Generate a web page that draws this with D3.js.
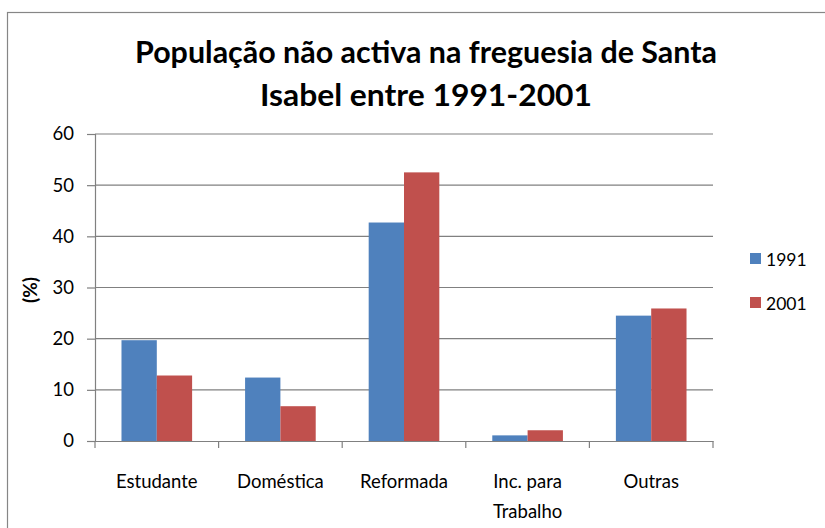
<!DOCTYPE html>
<html>
<head>
<meta charset="utf-8">
<script src="https://cdn.jsdelivr.net/npm/d3@7"></script>
<style>
  body { margin: 0; background: #fff; }
  text { font-family: Lato, "Open Sans", sans-serif; fill: #000; }
</style>
</head>
<body>
<div id="chart-area"></div>
<script>
// DATA
const categories = ["Estudante", "Doméstica", "Reformada", "Inc. para Trabalho", "Outras"]
const years = ["1991", "2001"]
const values1991 = [19.7, 12.4, 42.7, 1.1, 24.5]
const values2001 = [12.8, 6.8, 52.5, 2.1, 25.9]
const yTicks = [0, 10, 20, 30, 40, 50, 60]
const titleLines = ["População  não activa na freguesia de Santa", "Isabel entre  1991-2001"]
const colors = ["#4F81BD", "#C0504D"]

const WIDTH = 825
const HEIGHT = 528
const PLOT = { LEFT: 95, RIGHT: 713, TOP: 134, BOTTOM: 441 }

const svg = d3.select("#chart-area").append("svg")
  .attr("width", WIDTH)
  .attr("height", HEIGHT)

// chart frame
svg.append("rect")
  .attr("x", 7.5).attr("y", 12.5)
  .attr("width", 900).attr("height", 600)
  .attr("fill", "#fff")
  .attr("stroke", "#868686")
  .attr("stroke-width", 1.2)

// TITLE
const titleWidths = [582, 332]
svg.selectAll(".title")
  .data(titleLines)
  .enter().append("text")
  .attr("class", "title")
  .attr("x", 426)
  .attr("y", (d, i) => 63 + i * 43)
  .attr("text-anchor", "middle")
  .attr("font-size", 31)
  .attr("font-weight", "bold")
  .attr("textLength", (d, i) => titleWidths[i])
  .attr("lengthAdjust", "spacingAndGlyphs")
  .text(d => d)

// SCALES
const x0 = d3.scaleBand()
  .domain(categories)
  .range([PLOT.LEFT, PLOT.RIGHT])

const x1 = d3.scaleBand()
  .domain(years)
  .range([0, x0.bandwidth()])
  .paddingOuter(0.75)

const y = d3.scaleLinear()
  .domain([0, 60])
  .range([PLOT.BOTTOM, PLOT.TOP])

// GRIDLINES
svg.append("g")
  .selectAll("line")
  .data(yTicks.filter(d => d > 0))
  .enter().append("line")
  .attr("x1", PLOT.LEFT).attr("x2", PLOT.RIGHT)
  .attr("y1", d => y(d)).attr("y2", d => y(d))
  .attr("stroke", "#808080")
  .attr("stroke-width", 1.2)

// BARS
const series = years.map((yr, i) => ({
  year: yr,
  color: colors[i],
  values: (i === 0 ? values1991 : values2001).map((v, j) => ({ cat: categories[j], value: v }))
}))

series.forEach(s => {
  svg.append("g")
    .selectAll("rect")
    .data(s.values)
    .enter().append("rect")
    .attr("x", d => x0(d.cat) + x1(s.year))
    .attr("y", d => y(d.value))
    .attr("width", x1.bandwidth())
    .attr("height", d => y(0) - y(d.value))
    .attr("fill", s.color)
})

// Y AXIS
const yAxisCall = d3.axisLeft(y)
  .tickValues(yTicks)
  .tickSize(8)
  .tickPadding(13)
const yAxisGroup = svg.append("g")
  .attr("transform", `translate(${PLOT.LEFT}, 0)`)
  .call(yAxisCall)
yAxisGroup.select(".domain").attr("stroke", "#808080").attr("stroke-width", 1.2)
yAxisGroup.selectAll(".tick line").attr("stroke", "#808080").attr("stroke-width", 1.2)
yAxisGroup.selectAll(".tick text")
  .attr("font-size", 18.5)
  .attr("font-family", "Lato, sans-serif")
  .attr("fill", "#000")

// X AXIS
const xAxisCall = d3.axisBottom(x0)
  .tickSize(0)
  .tickPadding(0)
const xAxisGroup = svg.append("g")
  .attr("transform", `translate(0, ${PLOT.BOTTOM})`)
  .call(xAxisCall)
xAxisGroup.select(".domain").attr("stroke", "#808080").attr("stroke-width", 1.2)
xAxisGroup.selectAll(".tick text").remove()

// category boundary ticks
const bounds = categories.map(c => x0(c)).concat([PLOT.RIGHT])
xAxisGroup.selectAll(".bound")
  .data(bounds)
  .enter().append("line")
  .attr("class", "bound")
  .attr("x1", d => d).attr("x2", d => d)
  .attr("y1", 0).attr("y2", 7)
  .attr("stroke", "#808080")
  .attr("stroke-width", 1.2)

// category labels with wrapping
const labels = xAxisGroup.selectAll(".cat")
  .data(categories)
  .enter().append("text")
  .attr("class", "cat")
  .attr("x", d => x0(d) + x0.bandwidth() / 2)
  .attr("y", 47)
  .attr("text-anchor", "middle")
  .attr("font-size", 18.5)

labels.each(function (d) {
  const el = d3.select(this)
  const words = d.split(" ")
  let line = []
  let tspan = el.append("tspan").attr("x", x0(d) + x0.bandwidth() / 2).attr("dy", 0)
  words.forEach(w => {
    line.push(w)
    tspan.text(line.join(" "))
    if (tspan.node().getComputedTextLength() > 105 && line.length > 1) {
      line.pop()
      tspan.text(line.join(" "))
      line = [w]
      tspan = el.append("tspan")
        .attr("x", x0(d) + x0.bandwidth() / 2)
        .attr("dy", 30)
        .text(w)
    }
  })
})

// Y LABEL
svg.append("text")
  .attr("transform", "translate(37, 290) rotate(-90)")
  .attr("text-anchor", "middle")
  .attr("font-size", 19)
  .attr("font-weight", "bold")
  .text("(%)")

// LEGEND
const legend = svg.append("g")
  .selectAll("g")
  .data(series)
  .enter().append("g")
  .attr("transform", (d, i) => `translate(750, ${253 + i * 44})`)

legend.append("rect")
  .attr("width", 11).attr("height", 11)
  .attr("fill", d => d.color)

legend.append("text")
  .attr("x", 16)
  .attr("y", 12.5)
  .attr("font-size", 17.5)
  .text(d => d.year)
</script>
</body>
</html>
